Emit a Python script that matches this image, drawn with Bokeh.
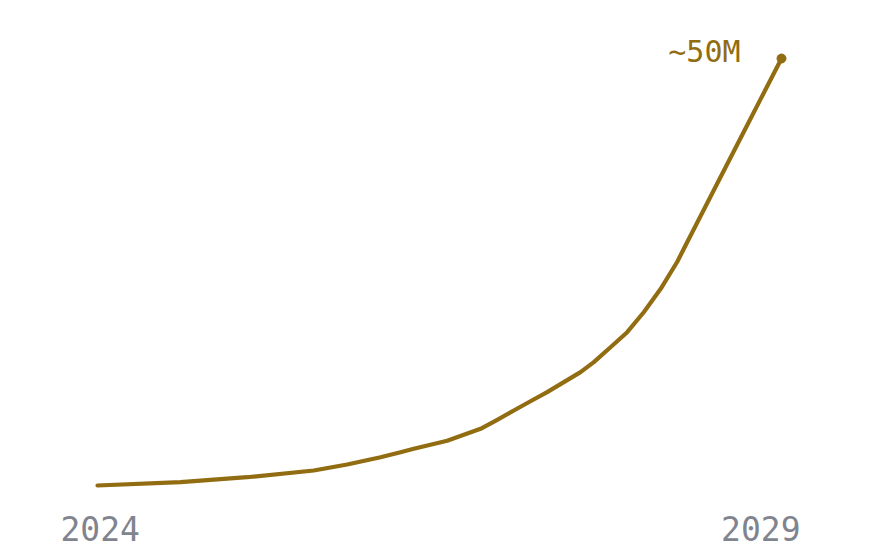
from bokeh.plotting import figure
from bokeh.models import Range1d, ColumnDataSource
from bokeh.embed import file_html
from bokeh.resources import INLINE
from bokeh.core.properties import value

# Data: year vs value in millions
years = [2024.000, 2024.607, 2025.094, 2025.581, 2025.825, 2026.069, 2026.215, 2026.312,
         2026.556, 2026.800, 2026.922, 2027.043, 2027.165, 2027.287, 2027.409, 2027.531,
         2027.628, 2027.750, 2027.872, 2027.993, 2028.117, 2028.238, 2028.286, 2028.505,
         2028.749, 2029.000]
values = [0.00, 0.39, 0.97, 1.76, 2.46, 3.31, 3.90, 4.30,
          5.25, 6.64, 7.69, 8.78, 9.87, 10.93, 12.10, 13.27,
          14.44, 16.19, 17.95, 20.29, 23.03, 26.20, 27.72, 34.57,
          42.19, 50.00]
tick_years = [2024, 2029]
tick_labels = ["2024", "2029"]
end_label = "~50M"

LINE = "#916c10"
GRAY = "#7f848e"
FONT = value("DejaVu Sans Mono")

p = figure(width=875, height=550, output_backend="svg", toolbar_location=None,
           x_range=Range1d(2023.2909, 2029.6871), y_range=Range1d(-7.611, 56.7916),
           min_border=0, min_border_left=0, min_border_right=0,
           min_border_top=0, min_border_bottom=0)
p.axis.visible = False
p.grid.visible = False
p.outline_line_color = None
p.background_fill_color = "white"
p.border_fill_color = "white"

p.line(years, values, line_color=LINE, line_width=4.2, line_join="round", line_cap="round")
p.scatter([years[-1]], [values[-1]], size=9, color=LINE)

p.text([years[-1]], [values[-1]], text=[end_label], text_font=FONT,
       text_font_size="30px", text_color=LINE, text_align="right",
       text_baseline="middle", x_offset=-41, y_offset=-7)

# tick labels
src_l = ColumnDataSource(dict(x=[tick_years[0]], y=[0], t=[tick_labels[0]]))
src_r = ColumnDataSource(dict(x=[tick_years[1]], y=[0], t=[tick_labels[1]]))
p.text("x", "y", text="t", source=src_l, text_font=FONT, text_font_size="33px",
       text_color=GRAY, text_align="left", text_baseline="middle",
       x_offset=-37, y_offset=43)
p.text("x", "y", text="t", source=src_r, text_font=FONT, text_font_size="33px",
       text_color=GRAY, text_align="right", text_baseline="middle",
       x_offset=19, y_offset=43)

open("out.html", "w").write(file_html(p, INLINE))
